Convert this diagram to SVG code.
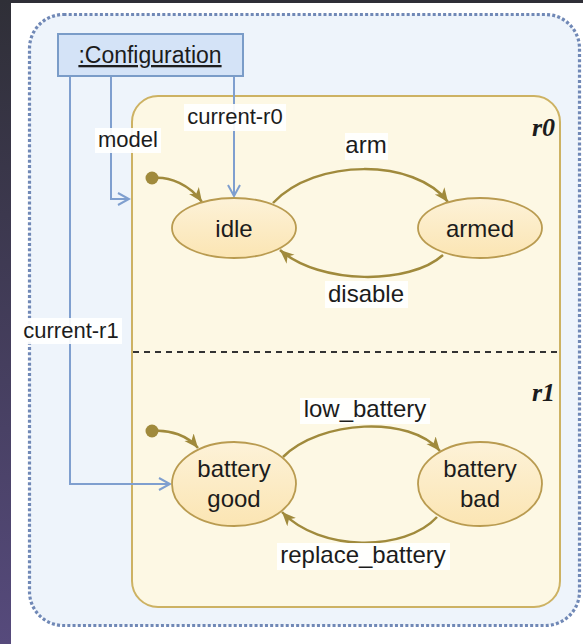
<svg xmlns="http://www.w3.org/2000/svg" width="583" height="644" viewBox="0 0 583 644">
<defs>
<linearGradient id="side" x1="0" y1="0" x2="0" y2="1">
<stop offset="0" stop-color="#2f2f37"/>
<stop offset="1" stop-color="#564a7c"/>
</linearGradient>
<linearGradient id="stateFill" x1="0" y1="0" x2="0" y2="1">
<stop offset="0" stop-color="#fdf2d8"/>
<stop offset="1" stop-color="#fbe5b3"/>
</linearGradient>
<marker id="olive" markerUnits="userSpaceOnUse" markerWidth="16" markerHeight="14" refX="14" refY="6" orient="auto">
<path d="M0,0 L14,6 L0,12 L4,6 z" fill="#a08a3c"/>
</marker>
<marker id="open" markerUnits="userSpaceOnUse" markerWidth="14" markerHeight="16" refX="12" refY="7" orient="auto">
<path d="M1,1 L12,7 L1,13" fill="none" stroke="#7f9fcf" stroke-width="2"/>
</marker>
<style>
.lbl{font-family:"Liberation Sans",Arial,sans-serif;fill:#1c1c1c;text-anchor:middle}
.s24{font-size:24px}
.s22{font-size:22px}
.state{fill:url(#stateFill);stroke:#b99b50;stroke-width:1.8}
.trans{fill:none;stroke:#a08a3c;stroke-width:2.5;marker-end:url(#olive)}
.link{fill:none;stroke:#7f9fcf;stroke-width:2}
.bg{fill:#ffffff;fill-opacity:0.92}
.rname{font-family:"Liberation Serif","DejaVu Serif",serif;font-style:italic;font-weight:bold;font-size:26px;fill:#1c1c1c;text-anchor:end}
</style>
</defs>
<rect x="0" y="0" width="583" height="644" fill="#ffffff"/>
<rect x="0" y="0" width="583" height="3" fill="#2f2f37"/>
<rect x="0" y="0" width="11" height="644" fill="url(#side)"/>

<g id="system">
<rect x="29.5" y="14.5" width="550" height="611" rx="34" fill="#eef4fb" stroke="#7088b6" stroke-width="3.2" stroke-dasharray="3 2.2"/>
</g>

<g id="region">
<rect x="132" y="96" width="428" height="511" rx="26" fill="#fdf8e4" stroke="#cdb263" stroke-width="2"/>
<line x1="133" y1="352" x2="558" y2="352" stroke="#333" stroke-width="2" stroke-dasharray="6 5"/>
<text class="rname" x="555" y="136">r0</text>
<text class="rname" x="555" y="401">r1</text>
</g>

<g id="connectors">
<path class="link" d="M70,76 V484 H170" marker-end="url(#open)"/>
<path class="link" d="M111,76 V199 H129" marker-end="url(#open)"/>
<path class="link" d="M234,76 V196" marker-end="url(#open)"/>
<path class="trans" d="M152,178 C170,176 190,185 202,202"/>
<path class="trans" d="M273,203 C315,158 415,158 448,202"/>
<path class="trans" d="M443,255 C410,285 320,285 280,250"/>
<path class="trans" d="M152,431 C170,429 188,436 198,448"/>
<path class="trans" d="M283,457 C320,420 410,415 440,451"/>
<path class="trans" d="M437,517 C405,552 320,552 282,512"/>
<circle cx="152" cy="178" r="6.5" fill="#a08a3c"/>
<circle cx="152" cy="431" r="6.5" fill="#a08a3c"/>
<rect class="bg" x="95" y="128" width="66" height="25"/>
<text class="lbl s22" x="128" y="147">model</text>
<rect class="bg" x="184" y="104" width="102" height="27"/>
<text class="lbl s22" x="235" y="124">current-r0</text>
<rect class="bg" x="20" y="318" width="102" height="26"/>
<text class="lbl s22" x="71" y="338">current-r1</text>
<rect class="bg" x="345" y="133" width="43" height="27"/>
<text class="lbl s24" x="366" y="153">arm</text>
<rect class="bg" x="325" y="281" width="83" height="27"/>
<text class="lbl s24" x="366" y="302">disable</text>
<rect class="bg" x="300" y="398" width="130" height="26"/>
<text class="lbl s24" x="365" y="417">low_battery</text>
<rect class="bg" x="277" y="543" width="173" height="27"/>
<text class="lbl s24" x="363" y="563">replace_battery</text>
</g>

<g id="configuration">
<rect x="58" y="34" width="185" height="42" fill="#d4e3f7" stroke="#7a9cc8" stroke-width="2"/>
<text class="lbl" x="150" y="63" style="font-size:23px;text-decoration:underline">:Configuration</text>
</g>

<g id="idle">
<ellipse class="state" cx="234" cy="228" rx="62" ry="30"/>
<text class="lbl s24" x="234" y="237">idle</text>
</g>
<g id="armed">
<ellipse class="state" cx="480" cy="228" rx="62" ry="30"/>
<text class="lbl s24" x="480" y="237">armed</text>
</g>
<g id="battery-good">
<ellipse class="state" cx="234" cy="484" rx="62" ry="42"/>
<text class="lbl s24" x="234" y="477">battery</text>
<text class="lbl s24" x="234" y="507">good</text>
</g>
<g id="battery-bad">
<ellipse class="state" cx="480" cy="484" rx="62" ry="42"/>
<text class="lbl s24" x="480" y="477">battery</text>
<text class="lbl s24" x="480" y="507">bad</text>
</g>
</svg>
